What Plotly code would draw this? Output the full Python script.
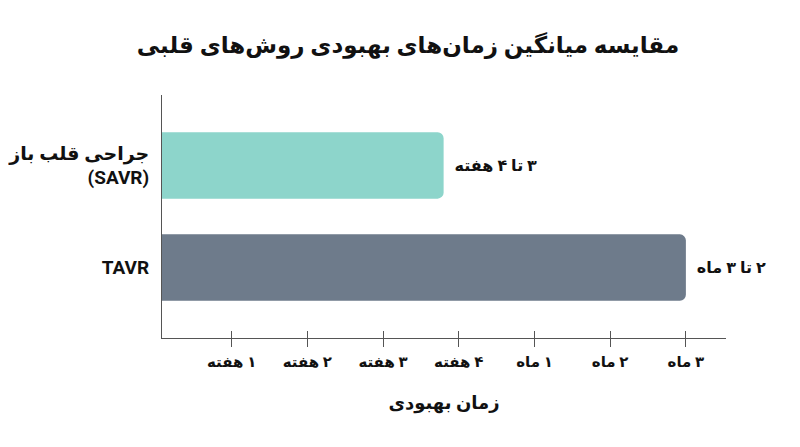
import plotly.graph_objects as go

# داده‌ها
methods = ["جراحی قلب باز<br>(SAVR)", "TAVR"]
recovery = [3.8, 7.0]
bar_labels = ["۳ تا ۴ هفته", "۲ تا ۳ ماه"]
bar_colors = ["#8DD5CB", "#6E7B8B"]
tick_vals = [1, 2, 3, 4, 5, 6, 7]
tick_text = ["۱ هفته", "۲ هفته", "۳ هفته", "۴ هفته", "۱ ماه", "۲ ماه", "۳ ماه"]

FONT = "Roboto, DejaVu Sans, sans-serif"
RLM = "\u200f"


def rtl(s):
    # علامت راست‌به‌چپ تا عدد فارسی سر جایش بماند
    return "<b>" + RLM + s + RLM + "</b>"


fig = go.Figure()
fig.add_trace(go.Bar(
    y=methods, x=recovery, orientation="h",
    marker=dict(color=bar_colors, line=dict(width=0)),
    text=["  " + rtl(t) for t in bar_labels],
    textposition="outside",
    textfont=dict(size=16, color="#111", family=FONT),
    cliponaxis=False,
    hoverinfo="skip",
))
# محور کمکی برای تیک‌های رو به بالا
fig.add_trace(go.Scatter(x=[None], y=[None], xaxis="x2", showlegend=False))

xrange = [0.08, 7.53]
fig.update_layout(
    width=800, height=447,
    plot_bgcolor="white", paper_bgcolor="white",
    margin=dict(l=154, r=82, t=87, b=117),
    barcornerradius=6,
    bargap=0.35,
    showlegend=False,
    font=dict(family=FONT, color="#111"),
    title=dict(text=rtl("مقایسه میانگین زمان‌های بهبودی روش‌های قلبی"),
               x=0.5, xanchor="center", y=0.917, yanchor="middle",
               font=dict(size=23, family=FONT, color="#111")),
    xaxis=dict(range=xrange, tickvals=tick_vals, automargin=False,
               ticktext=[rtl(t) for t in tick_text],
               ticks="outside", ticklen=8, tickcolor="#555", tickwidth=1,
               showline=True, linecolor="#555", linewidth=1,
               showgrid=False, zeroline=False,
               ticklabelstandoff=2,
               tickfont=dict(size=15, family=FONT),
               title=dict(text=rtl("زمان بهبودی"), standoff=26,
                          font=dict(size=18, family=FONT))),
    xaxis2=dict(range=xrange, overlaying="x", side="bottom", anchor="y",
                tickvals=tick_vals, showticklabels=False,
                ticks="inside", ticklen=7, tickcolor="#555", tickwidth=1,
                showline=False, showgrid=False, zeroline=False),
    yaxis=dict(autorange=False, range=[1.69, -0.69], type="category",
               automargin=False,
               showline=True, linecolor="#555", linewidth=1,
               showgrid=False, zeroline=False, ticks="",
               ticklabelstandoff=8,
               tickvals=methods,
               ticktext=["<b>جراحی قلب باز</b><br><b>(SAVR)</b>", "<b>TAVR</b>"],
               tickfont=dict(size=19, family=FONT)),
)

fig.write_html("out.html")
